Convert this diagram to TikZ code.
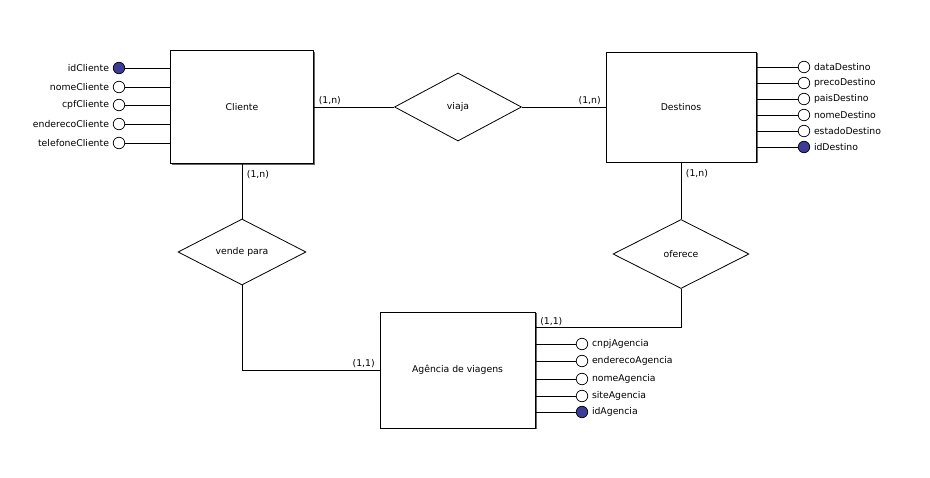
\documentclass[tikz,border=0pt]{standalone}
\usepackage{fontspec}
\setmainfont{DejaVu Sans}
\usetikzlibrary{shapes.geometric,shadows,positioning}

\definecolor{chaveazul}{RGB}{60,60,150}

\begin{document}
\begin{tikzpicture}[x=1pt,y=-1pt,line width=0.8pt,
		every node/.style={font=\fontsize{9.3}{11}\selectfont},
		entidade/.style={draw,fill=white,rectangle,drop shadow={shadow xshift=1.5pt,shadow yshift=-1.5pt,fill=gray!80!black,opacity=1}},
		relacao/.style={draw,fill=white,diamond,inner sep=0pt},
		atributo/.style={draw,circle,fill=white,minimum size=11.5pt,inner sep=0pt,line width=0.7pt},
		chave/.style={atributo,fill=chaveazul},
		rotulo/.style={inner sep=2.5pt,label distance=1pt},
		card/.style={inner sep=1.5pt,xshift=3pt}]
	\useasboundingbox (0,0) rectangle (930,478);

	% entidades
	\node[entidade,minimum width=143,minimum height=113] (cliente) at (242,107) {Cliente};
	\node[entidade,minimum width=150,minimum height=110] (destinos) at (681,107) {Destinos};
	\node[entidade,minimum width=155,minimum height=116] (agencia) at (457.5,370) {Agência de viagens};

	% relacionamentos
	\node[relacao,minimum width=127,minimum height=68] (viaja) at (458,107) {viaja};
	\node[relacao,minimum width=128,minimum height=66] (vende) at (242,252) {vende para};
	\node[relacao,minimum width=136,minimum height=69] (oferece) at (681,254) {oferece};

	% atributos de Cliente
	\node[chave,label={[rotulo]left:idCliente}] (idcliente) at (119,68) {};
	\node[atributo,label={[rotulo]left:nomeCliente}] (nomecliente) at (119,87) {};
	\node[atributo,label={[rotulo]left:cpfCliente}] (cpfcliente) at (119,105) {};
	\node[atributo,label={[rotulo]left:enderecoCliente}] (enderecocliente) at (119,124) {};
	\node[atributo,label={[rotulo]left:telefoneCliente}] (telefonecliente) at (119,143) {};
	\draw (idcliente) -- (idcliente -| cliente.west);
	\draw (nomecliente) -- (nomecliente -| cliente.west);
	\draw (cpfcliente) -- (cpfcliente -| cliente.west);
	\draw (enderecocliente) -- (enderecocliente -| cliente.west);
	\draw (telefonecliente) -- (telefonecliente -| cliente.west);

	% atributos de Destinos
	\node[atributo,label={[rotulo]right:dataDestino}] (datadestino) at (804,67) {};
	\node[atributo,label={[rotulo]right:precoDestino}] (precodestino) at (804,83) {};
	\node[atributo,label={[rotulo]right:paisDestino}] (paisdestino) at (804,99) {};
	\node[atributo,label={[rotulo]right:nomeDestino}] (nomedestino) at (804,115) {};
	\node[atributo,label={[rotulo]right:estadoDestino}] (estadodestino) at (804,131) {};
	\node[chave,label={[rotulo]right:idDestino}] (iddestino) at (804,147) {};
	\draw (datadestino) -- (datadestino -| destinos.east);
	\draw (precodestino) -- (precodestino -| destinos.east);
	\draw (paisdestino) -- (paisdestino -| destinos.east);
	\draw (nomedestino) -- (nomedestino -| destinos.east);
	\draw (estadodestino) -- (estadodestino -| destinos.east);
	\draw (iddestino) -- (iddestino -| destinos.east);

	% atributos de Agencia
	\node[atributo,label={[rotulo]right:cnpjAgencia}] (cnpjagencia) at (582,344) {};
	\node[atributo,label={[rotulo]right:enderecoAgencia}] (enderecoagencia) at (582,361) {};
	\node[atributo,label={[rotulo]right:nomeAgencia}] (nomeagencia) at (582,379) {};
	\node[atributo,label={[rotulo]right:siteAgencia}] (siteagencia) at (582,396) {};
	\node[chave,label={[rotulo]right:idAgencia}] (idagencia) at (582,412) {};
	\draw (cnpjagencia) -- (cnpjagencia -| agencia.east);
	\draw (enderecoagencia) -- (enderecoagencia -| agencia.east);
	\draw (nomeagencia) -- (nomeagencia -| agencia.east);
	\draw (siteagencia) -- (siteagencia -| agencia.east);
	\draw (idagencia) -- (idagencia -| agencia.east);

	% ligacoes
	\draw (cliente.east) -- (viaja.west) node[pos=0,above right,card] {(1,n)};
	\draw (viaja.east) -- (destinos.west) node[pos=1,above left,card,xshift=-6pt] {(1,n)};
	\draw (cliente.south) -- (vende.north) node[pos=0,below right,card,yshift=-5pt] {(1,n)};
	\draw (vende.south) |- (agencia.west) node[pos=1,above left,card,xshift=-6pt] {(1,1)};
	\draw (destinos.south) -- (oferece.north) node[pos=0,below right,card,yshift=-5pt] {(1,n)};
	\draw (oferece.south) |- ([yshift=-16pt]agencia.north east) node[pos=1,above right,card] {(1,1)};
\end{tikzpicture}
\end{document}
